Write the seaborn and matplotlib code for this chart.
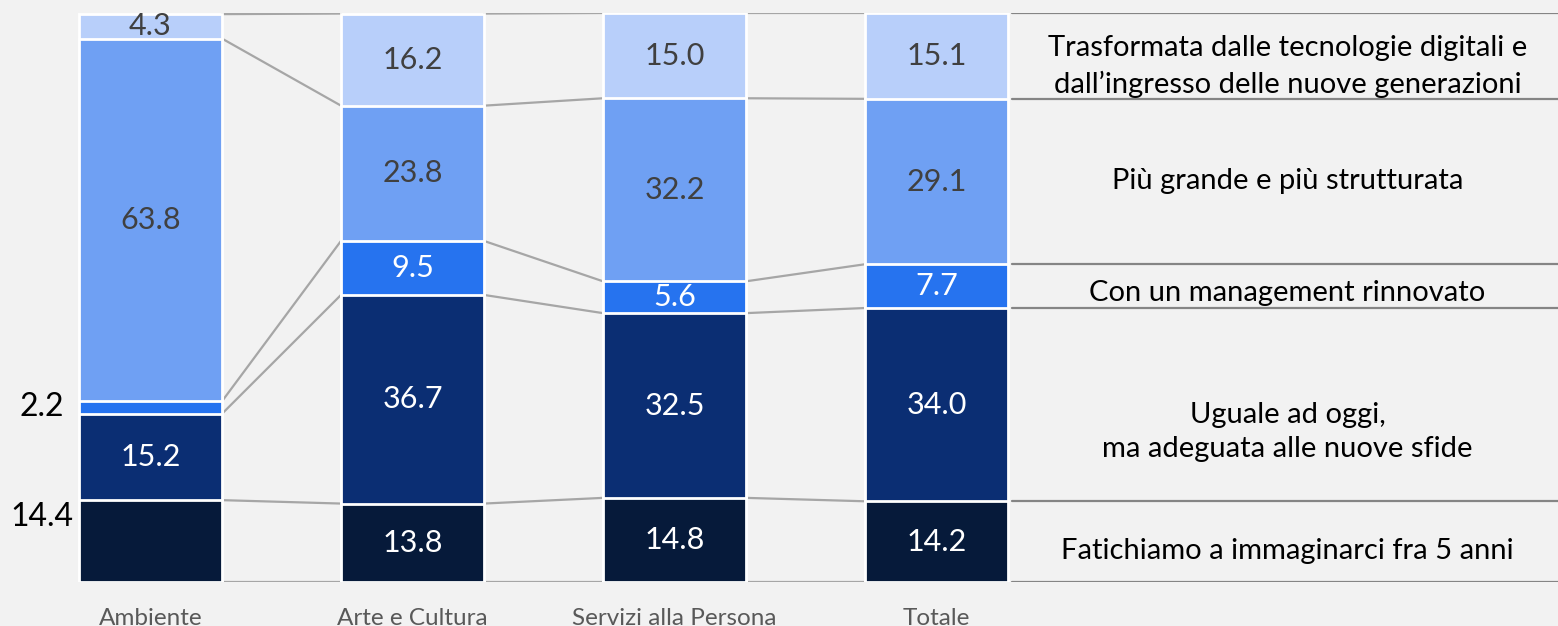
import numpy as np
import seaborn as sns
import matplotlib.pyplot as plt

# Dati
categorie = ['Ambiente', 'Arte e Cultura', 'Servizi alla Persona', 'Totale']
risposte = ['Fatichiamo a immaginarci fra 5 anni',
            'Uguale ad oggi,\nma adeguata alle nuove sfide',
            'Con un management rinnovato',
            'Più grande e più strutturata',
            'Trasformata dalle tecnologie digitali e\ndall\u2019ingresso delle nuove generazioni']
fatichiamo = [14.4, 13.8, 14.8, 14.2]
uguale = [15.2, 36.7, 32.5, 34.0]
management = [2.2, 9.5, 5.6, 7.7]
piu_grande = [63.8, 23.8, 32.2, 29.1]
trasformata = [4.3, 16.2, 15.0, 15.1]

colori = ['#061a3a', '#0b2e73', '#2673ef', '#6fa0f3', '#b8cffa']
colori_testo = ['white', 'white', 'white', '#404040', '#404040']
# posizione verticale delle etichette a destra
pos_etichette = [5.5, 26.4, 50.8, 70.5, 90.7]

valori = np.array([fatichiamo, uguale, management, piu_grande, trasformata])
cumulati = np.cumsum(valori, axis=0)
basi = cumulati - valori

sns.set_style('white')
plt.rcParams['font.family'] = ['Lato', 'DejaVu Sans']

sfondo = '#f2f2f2'
fig = plt.figure(figsize=(15.58, 6.26), dpi=100, facecolor=sfondo)
ax = fig.add_axes([0, 44 / 626, 1, 569 / 626])
ax.set_facecolor(sfondo)

w = 0.546
# barre impilate: si disegnano i cumulati dall'alto verso il basso
for k in range(len(risposte) - 1, -1, -1):
    sns.barplot(x=categorie, y=cumulati[k], color=colori[k], width=w,
                saturation=1, edgecolor='white', linewidth=2, ax=ax, zorder=2)

# linee di collegamento tra le barre
livelli = np.vstack([np.zeros(len(categorie)), cumulati])
for i in range(len(categorie) - 1):
    for lv in livelli:
        ax.plot([i + w / 2, i + 1 - w / 2], [lv[i], lv[i + 1]],
                color='#a6a6a6', lw=1.6, zorder=1)

xmin, xmax = -150.5 / 262, (1558 - 150.5) / 262
ultimo = len(categorie) - 1
for lv in livelli:
    ax.plot([ultimo + w / 2 + 0.015, xmax], [lv[ultimo], lv[ultimo]],
            color='#858585', lw=1.6, zorder=1)

# etichette dei valori
for k in range(len(risposte)):
    for i in range(len(categorie)):
        v = valori[k, i]
        if i == 0 and k in (0, 2):
            y = cumulati[k, i] - 3 if k == 0 else basi[k, i] + v / 2
            ax.text(-0.414, y, f'{v:.1f}', ha='center', va='center',
                    fontsize=23, color='black')
        else:
            ax.text(i, basi[k, i] + v / 2, f'{v:.1f}', ha='center', va='center',
                    fontsize=22, color=colori_testo[k])

# etichette a destra
for k, testo in enumerate(risposte):
    ax.text(4.34, pos_etichette[k], testo, ha='center', va='center',
            fontsize=21, color='black', linespacing=1.4)

ax.set_xlim(xmin, xmax)
ax.set_ylim(0, 100.1)
ax.set_yticks([])
ax.set_xlabel('')
ax.set_ylabel('')
ax.tick_params(axis='x', length=0, pad=19, labelsize=17.5, labelcolor='#595959')
sns.despine(ax=ax, left=True, bottom=True)

plt.savefig('out.png', dpi=100, facecolor=sfondo)
